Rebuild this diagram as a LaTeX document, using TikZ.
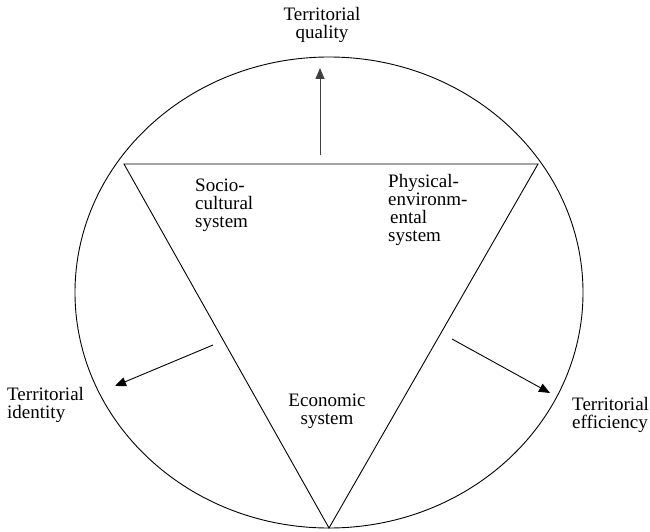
\documentclass[tikz,border=0pt]{standalone}
\usepackage{fontspec}
\setmainfont{Liberation Serif}
\usetikzlibrary{arrows.meta,shapes.geometric}
\begin{document}
\begin{tikzpicture}[x=1pt,y=-1pt,
  lbl/.style={inner sep=0pt,font=\fontsize{19}{18}\selectfont},
  outline/.style={line width=0.9pt},
  arr/.style={line width=0.9pt,-{Triangle[length=11pt,width=9pt]}}]
\useasboundingbox (0,0) rectangle (650,532);
% ellipse
\node[ellipse,draw,outline,minimum width=508pt,minimum height=471pt,inner sep=0pt] (circ) at (329,292.5) {};
% triangle
\coordinate (tl) at (124,164);
\coordinate (tr) at (538,164);
\coordinate (bt) at (329,528);
\draw[outline] (tl) -- (tr) -- (bt) -- cycle;
% arrows
\coordinate (qs) at (320,155);
\coordinate (qe) at (320,68);
\coordinate (is) at (213,345);
\coordinate (ie) at (115,386);
\coordinate (es) at (452,339);
\coordinate (ee) at (550,393);
\draw[arr,black!75] (qs) -- (qe);
\draw[arr] (is) -- (ie);
\draw[arr] (es) -- (ee);
% labels
\node[lbl,anchor=north,align=center] (quality) at (322,7) {Territorial\\quality};
\node[lbl,anchor=north west,align=left] (identity) at (7,387) {Territorial\\identity};
\node[lbl,anchor=north west,align=left] (efficiency) at (572,397) {Territorial\\efficiency};
\node[lbl,anchor=north west,align=left] (socio) at (195,179) {Socio-\\cultural\\system};
\node[lbl,anchor=north west,align=left] (phys) at (388,174) {Physical-\\environm-\\\hspace{2pt}ental\\system};
\node[lbl,anchor=north,align=center] (econ) at (327,394) {Economic\\system};
\end{tikzpicture}
\end{document}
